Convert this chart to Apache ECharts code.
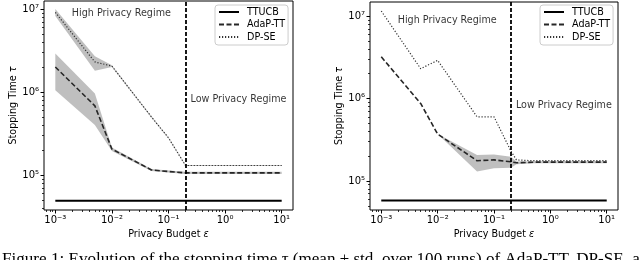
<!DOCTYPE html>
<html><head><meta charset="utf-8">
<script src="https://cdn.jsdelivr.net/npm/echarts@6/dist/echarts.min.js"></script>
<style>html,body{margin:0;padding:0;background:#fff}#c{width:640px;height:260px}</style>
</head><body><div id="c"></div>
<script>
// ---- data ----
const eps = [0.001, 0.005, 0.01, 0.05, 0.1, 0.2, 0.25, 0.5, 1, 5, 10];
// left panel
const ttucbL = [4.9e4, 4.9e4, 4.9e4, 4.9e4, 4.9e4, 4.9e4, 4.9e4, 4.9e4, 4.9e4, 4.9e4, 4.9e4];
const adaL   = [2.0e6, 6.8e5, 2.05e5, 1.15e5, 1.10e5, 1.06e5, 1.06e5, 1.06e5, 1.06e5, 1.06e5, 1.06e5];
const adaLlo = [1.05e6, 4.0e5, 1.95e5, 1.12e5, 1.07e5, 1.03e5, 1.03e5, 1.03e5, 1.03e5, 1.03e5, 1.03e5];
const adaLhi = [2.9e6, 9.6e5, 2.15e5, 1.18e5, 1.13e5, 1.09e5, 1.09e5, 1.09e5, 1.09e5, 1.09e5, 1.09e5];
const dpL    = [9.1e6, 2.3e6, 2.05e6, 5.0e5, 2.8e5, 1.3e5, 1.3e5, 1.3e5, 1.3e5, 1.3e5, 1.3e5];
const dpLlo  = [8.2e6, 1.8e6, 2.0e6, 4.9e5, 2.75e5, 1.28e5, 1.28e5, 1.28e5, 1.28e5, 1.28e5, 1.28e5];
const dpLhi  = [1.0e7, 2.7e6, 2.1e6, 5.1e5, 2.85e5, 1.32e5, 1.32e5, 1.32e5, 1.32e5, 1.32e5, 1.32e5];
// right panel
const ttucbR = [5.8e4, 5.8e4, 5.8e4, 5.8e4, 5.8e4, 5.8e4, 5.8e4, 5.8e4, 5.8e4, 5.8e4, 5.8e4];
const adaR   = [3.2e6, 8.7e5, 3.7e5, 1.76e5, 1.80e5, 1.71e5, 1.66e5, 1.69e5, 1.69e5, 1.69e5, 1.69e5];
const adaRlo = [3.2e6, 8.7e5, 3.7e5, 1.30e5, 1.43e5, 1.45e5, 1.60e5, 1.64e5, 1.64e5, 1.64e5, 1.64e5];
const adaRhi = [3.2e6, 8.7e5, 3.7e5, 2.07e5, 2.10e5, 1.97e5, 1.72e5, 1.74e5, 1.74e5, 1.74e5, 1.74e5];
const dpR    = [1.15e7, 2.3e6, 2.9e6, 6.0e5, 6.0e5, 2.3e5, 1.8e5, 1.76e5, 1.76e5, 1.76e5, 1.76e5];
// regime boundary and annotations
const regimeEps = 0.2;
const highText = {x: 0.002, y: 1e7, text: 'High Privacy Regime'};
const lowText  = {x: 0.25, y: 8e5, text: 'Low Privacy Regime'};
// ticks
const xTicks = [0.001, 0.01, 0.1, 1, 10];
const yTicks = [1e5, 1e6, 1e7];
const xDecades = [1e-4, 1e-3, 1e-2, 1e-1, 1, 10];
const yDecades = [1e4, 1e5, 1e6, 1e7];
const minorMult = [2, 3, 4, 5, 6, 7, 8, 9];
const legendNames = ['TTUCB', 'AdaP-TT', 'DP-SE'];
const caption = 'Figure 1: Evolution of the stopping time τ (mean ± std. over 100 runs) of AdaP-TT, DP-SE, and TTUCB';

// ---- helpers ----
const FONT = 'DejaVu Sans';
const SUP = {'-': '⁻', '0': '⁰', '1': '¹', '2': '²', '3': '³', '4': '⁴', '5': '⁵', '6': '⁶', '7': '⁷', '8': '⁸', '9': '⁹'};
const powLabel = v => '10' + String(Math.round(v)).split('').map(c => SUP[c]).join('');
const pairs = (xs, ys) => xs.map((x, i) => [x, ys[i]]);
const minorOf = dec => { const r = []; dec.forEach(d => minorMult.forEach(m => r.push(Math.log10(d * m)))); return r; };
const xMinor = minorOf(xDecades), yMinor = minorOf(yDecades);

const panels = [
  {grid: {left: 44, top: 1, width: 249, height: 209}, xr: [-3.2, 1.2], yr: [4.578, 7.096],
   tt: ttucbL, ada: adaL, adaLo: adaLlo, adaHi: adaLhi, dp: dpL, dpLo: dpLlo, dpHi: dpLhi, legendLeft: 215},
  {grid: {left: 370, top: 2, width: 248, height: 208}, xr: [-3.2, 1.2], yr: [4.648, 7.17],
   tt: ttucbR, ada: adaR, adaLo: adaRlo, adaHi: adaRhi, dp: dpR, dpLo: null, dpHi: null, legendLeft: 540}
];

const grids = [], xAxes = [], yAxes = [], series = [], legends = [];
const tickLine = {color: '#000', width: 1};
const noLine = {show: false, onZero: false};
const NAME_FS = 9.6;
panels.forEach((p, g) => {
  grids.push(Object.assign({show: true, borderColor: '#000', borderWidth: 1, backgroundColor: '#fff'}, p.grid));
  const xi = xAxes.length, yi = yAxes.length;
  // data axes (log)
  xAxes.push({type: 'log', logBase: 10, gridIndex: g, min: Math.pow(10, p.xr[0]), max: Math.pow(10, p.xr[1]), show: false, axisLine: noLine});
  yAxes.push({type: 'log', logBase: 10, gridIndex: g, min: Math.pow(10, p.yr[0]), max: Math.pow(10, p.yr[1]), show: false, axisLine: noLine});
  // major tick/label axes
  xAxes.push({type: 'value', gridIndex: g, position: 'bottom', min: p.xr[0], max: p.xr[1],
    axisLine: noLine, splitLine: {show: false},
    axisTick: {show: true, customValues: xTicks.map(Math.log10), length: 3.5, lineStyle: tickLine},
    axisLabel: {show: true, customValues: xTicks.map(Math.log10), formatter: powLabel, fontFamily: FONT, fontSize: 10, color: '#000', margin: 5},
    name: 'Privacy Budget {i|ε}', nameLocation: 'middle', nameGap: 19,
    nameTextStyle: {fontFamily: FONT, fontSize: NAME_FS, color: '#000', verticalAlign: 'top', rich: {i: {fontStyle: 'italic', fontFamily: FONT, fontSize: NAME_FS}}}});
  xAxes.push({type: 'value', gridIndex: g, position: 'bottom', min: p.xr[0], max: p.xr[1],
    axisLine: noLine, splitLine: {show: false}, axisLabel: {show: false},
    axisTick: {show: true, customValues: xMinor.filter(v => v > p.xr[0] && v < p.xr[1]), length: 2, lineStyle: {color: '#000', width: 0.8}}});
  yAxes.push({type: 'value', gridIndex: g, position: 'left', min: p.yr[0], max: p.yr[1],
    axisLine: noLine, splitLine: {show: false},
    axisTick: {show: true, customValues: yTicks.map(Math.log10), length: 3.5, lineStyle: tickLine},
    axisLabel: {show: true, customValues: yTicks.map(Math.log10), formatter: powLabel, fontFamily: FONT, fontSize: 10, color: '#000', margin: 5},
    name: 'Stopping Time {i|τ}', nameLocation: 'middle', nameGap: 26, nameRotate: 90,
    nameTextStyle: {fontFamily: FONT, fontSize: NAME_FS, color: '#000', rich: {i: {fontStyle: 'italic', fontFamily: FONT, fontSize: NAME_FS}}}});
  yAxes.push({type: 'value', gridIndex: g, position: 'left', min: p.yr[0], max: p.yr[1],
    axisLine: noLine, splitLine: {show: false}, axisLabel: {show: false},
    axisTick: {show: true, customValues: yMinor.filter(v => v > p.yr[0] && v < p.yr[1]), length: 2, lineStyle: {color: '#000', width: 0.8}}});

  const base = {type: 'line', xAxisIndex: xi, yAxisIndex: yi, symbol: 'none', animation: false};
  // std bands: one polygon built from the library's coordinate conversion
  const band = (lo, hi) => {
    if (!lo) return;
    series.push({type: 'custom', xAxisIndex: xi, yAxisIndex: yi, silent: true, animation: false, z: 1,
      data: eps.map((x, i) => [x, lo[i], hi[i]]), encode: {x: 0, y: [1, 2]},
      renderItem: (params, api) => {
        if (params.dataIndex !== 0) return null;
        const top = eps.map((x, i) => api.coord([x, hi[i]]));
        const bot = eps.map((x, i) => api.coord([x, lo[i]])).reverse();
        return {type: 'polygon', shape: {points: top.concat(bot)},
          style: {fill: 'rgba(128,128,128,0.5)', stroke: 'none'}};
      }});
  };
  band(p.adaLo, p.adaHi);
  band(p.dpLo, p.dpHi);
  series.push(Object.assign({}, base, {name: 'TTUCB', data: pairs(eps, p.tt), z: 3,
    lineStyle: {color: '#000', width: 2, type: 'solid'}, itemStyle: {color: '#000'},
    markLine: {silent: true, symbol: ['none', 'none'], label: {show: false},
      lineStyle: {color: '#000', width: 1.8, type: [4, 2]}, data: [{xAxis: regimeEps}], animation: false}}));
  series.push(Object.assign({}, base, {name: 'AdaP-TT', data: pairs(eps, p.ada), z: 3,
    lineStyle: {color: '#262626', width: 1.6, type: [5, 2.5]}, itemStyle: {color: '#262626'}}));
  series.push(Object.assign({}, base, {name: 'DP-SE', data: pairs(eps, p.dp), z: 3,
    lineStyle: {color: '#333', width: 1.2, type: [1.2, 1.8]}, itemStyle: {color: '#333'}}));
  [highText, lowText].forEach((t, k) => {
    series.push({type: 'scatter', xAxisIndex: xi, yAxisIndex: yi, symbolSize: 1, silent: true, animation: false,
      itemStyle: {color: 'rgba(0,0,0,0)'}, data: [[t.x, t.y]],
      label: {show: true, formatter: t.text, position: [0, 0], align: 'left', verticalAlign: k === 0 ? 'top' : 'middle',
        fontFamily: FONT, fontSize: 9.6, color: '#000'}});
  });
  legends.push({left: p.legendLeft, top: 5, orient: 'vertical', data: legendNames, selectedMode: false,
    itemWidth: 20, itemHeight: 12, itemGap: 2.5, padding: [2, 3, 3, 3],
    backgroundColor: 'rgba(255,255,255,0.85)', borderColor: '#cccccc', borderWidth: 1, borderRadius: 3,
    itemStyle: {opacity: 0},
    textStyle: {fontFamily: FONT, fontSize: 9.6, color: '#000', padding: [0, 0, 0, 3]}});
});

const chart = echarts.init(document.getElementById('c'), null, {renderer: 'canvas'});
chart.setOption({
  animation: false,
  backgroundColor: '#fff',
  grid: grids, xAxis: xAxes, yAxis: yAxes, series: series, legend: legends,
  graphic: [{type: 'text', left: 2, top: 251, silent: true,
    style: {text: caption, fontFamily: 'Liberation Serif', fontSize: 17.1, fill: '#000'}}]
});
</script></body></html>
